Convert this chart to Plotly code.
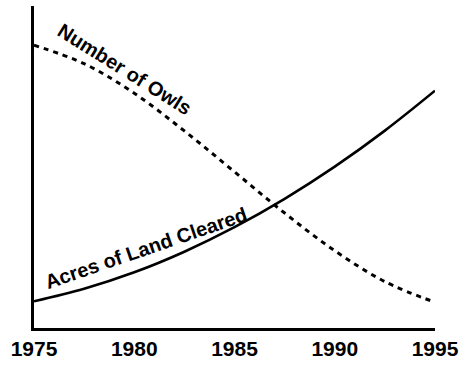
import plotly.graph_objects as go

# Years on the horizontal axis
years = [1975, 1977.5, 1980, 1982.5, 1985, 1987.5, 1990, 1992.5, 1995]
tick_years = [1975, 1980, 1985, 1990, 1995]
tick_labels = ["1975", "1980", "1985", "1990", "1995"]

# Relative levels (no units shown on the vertical axis)
owls = [87.8, 82.1, 72.9, 61.2, 48.5, 35.7, 24.0, 14.4, 8.0]
land_cleared = [8.3, 12.2, 17.3, 23.7, 31.3, 40.1, 50.1, 61.3, 73.7]

fig = go.Figure()

fig.add_trace(go.Scatter(
    x=years, y=owls, mode="lines",
    line=dict(color="black", width=3, dash="5px,5px", shape="spline", smoothing=1.0),
    hoverinfo="skip", showlegend=False,
))
fig.add_trace(go.Scatter(
    x=years, y=land_cleared, mode="lines",
    line=dict(color="black", width=2.6, shape="spline", smoothing=1.0),
    hoverinfo="skip", showlegend=False,
))

label_font = dict(family="Liberation Sans, Arial, sans-serif", size=20, color="black", weight="bold")

fig.add_annotation(
    x=1979.5, y=80.4, xref="x", yref="y",
    text="Number of Owls", showarrow=False, textangle=32, font=label_font,
)
fig.add_annotation(
    x=1980.6, y=24.7, xref="x", yref="y",
    text="Acres of Land Cleared", showarrow=False, textangle=-19, font=label_font,
)

fig.update_layout(
    width=465, height=366,
    margin=dict(l=34, r=25, t=6, b=33),
    paper_bgcolor="white", plot_bgcolor="white",
    xaxis=dict(
        range=[1975, 1995], tickvals=tick_years, ticktext=tick_labels,
        showline=True, linecolor="black", linewidth=2.5,
        showgrid=False, zeroline=False, ticks="",
        tickfont=dict(family="Liberation Sans, Arial, sans-serif", size=21, color="black", weight="bold"),
    ),
    yaxis=dict(
        range=[0, 100], showline=True, linecolor="black", linewidth=2.5,
        showgrid=False, zeroline=False, showticklabels=False, ticks="",
    ),
)

fig.write_html("out.html")
